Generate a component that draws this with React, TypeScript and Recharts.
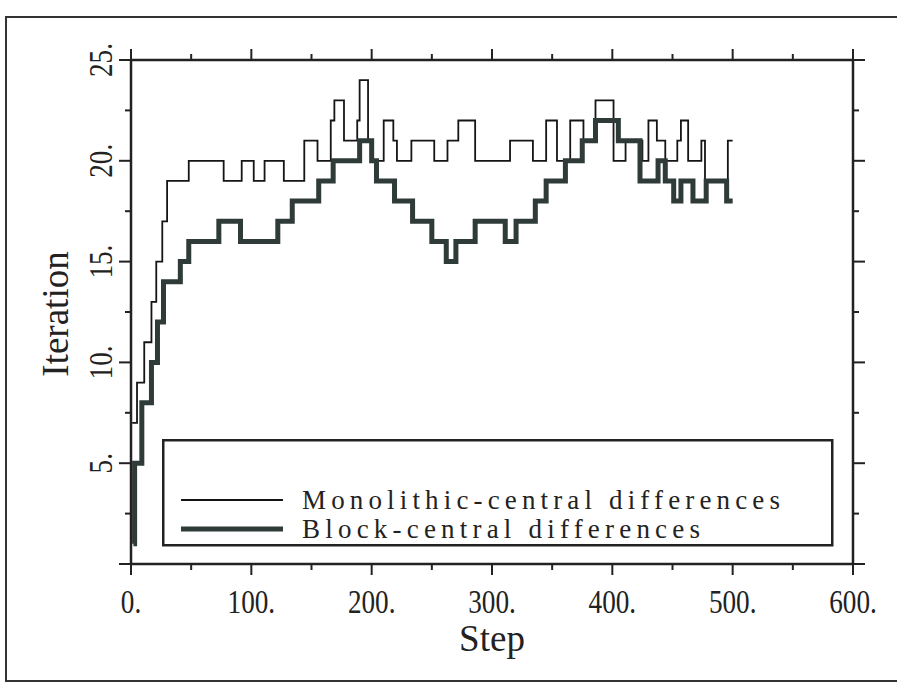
import { Legend, Line, LineChart, XAxis, YAxis } from "recharts";

const SERIF = "'Liberation Serif', 'DejaVu Serif', serif";
const INK = "#222";

const stepTicks = [0, 50, 100, 150, 200, 250, 300, 350, 400, 450, 500, 550, 600];
const iterTicks = [0, 2.5, 5, 7.5, 10, 12.5, 15, 17.5, 20, 22.5, 25];

const monoName = "Monolithic-central differences";
const monoSteps = [
  1, 5, 11, 17, 21, 26, 30, 48, 77, 92, 102, 111, 127, 144, 155, 166, 169, 177, 188, 190,
  197, 201, 210, 218, 221, 233, 252, 263, 272, 286, 315, 334, 345, 354, 365, 376, 386, 401, 411, 425,
  430, 437, 444, 454, 457, 463, 474, 477, 496, 500,
];
const monoIters = [
  7, 9, 11, 13, 15, 17, 19, 20, 19, 20, 19, 20, 19, 21, 20, 22, 23, 21, 22, 24,
  21, 20, 22, 21, 20, 21, 20, 21, 22, 20, 21, 20, 22, 20, 22, 21, 23, 20, 21, 20,
  22, 21, 20, 21, 22, 20, 21, 19, 21, 21,
];

const blockName = "Block-central differences";
const blockSteps = [
  2, 3, 9, 17, 22, 27, 41, 48, 73, 91, 122, 134, 156, 168, 190, 200, 204, 219, 234, 250,
  262, 270, 286, 311, 320, 336, 345, 361, 375, 386, 405, 423, 438, 444, 451, 457, 467, 478, 495, 500,
];
const blockIters = [
  1, 5, 8, 10, 12, 14, 15, 16, 17, 16, 17, 18, 19, 20, 21, 20, 19, 18, 17, 16,
  15, 16, 17, 16, 17, 18, 19, 20, 21, 22, 21, 19, 20, 19, 18, 19, 18, 19, 18, 18,
];

const legendOrder = [monoName, blockName];

const toRows = (xs: number[], ys: number[]) => xs.map((x, i) => ({ x, y: ys[i] }));
const monoRows = toRows(monoSteps, monoIters);
const blockRows = toRows(blockSteps, blockIters);

const lineStyles: Record<string, { width: number; textLength: number }> = {
  [monoName]: { width: 1.8, textLength: 478 },
  [blockName]: { width: 5, textLength: 398 },
};

function BottomTick({ x, y, payload }: any) {
  const v = payload.value;
  const major = v % 100 === 0;
  return (
    <g>
      <line x1={x} x2={x} y1={y} y2={y + (major ? 11 : 6)} stroke={INK} strokeWidth={2} />
      {major && (
        <text
          transform={`translate(${x},${y + 49}) scale(0.8,1)`}
          textAnchor="middle"
          fontFamily={SERIF}
          fontSize={34}
          fill={INK}
        >
          {`${v}.`}
        </text>
      )}
    </g>
  );
}

function TopTick({ x, y, payload }: any) {
  const major = payload.value % 100 === 0;
  return <line x1={x} x2={x} y1={y} y2={y - (major ? 11 : 6)} stroke={INK} strokeWidth={2} />;
}

function LeftTick({ x, y, payload }: any) {
  const v = payload.value;
  const major = v % 5 === 0;
  return (
    <g>
      <line x1={x - (major ? 12 : 6)} x2={x} y1={y} y2={y} stroke={INK} strokeWidth={2} />
      {major && v > 0 && (
        <text
          transform={`translate(${x - 19},${y}) rotate(-90) scale(0.8,1)`}
          textAnchor="middle"
          fontFamily={SERIF}
          fontSize={34}
          fill={INK}
        >
          {`${v}.`}
        </text>
      )}
    </g>
  );
}

function RightTick({ x, y, payload }: any) {
  const major = payload.value % 5 === 0;
  return <line x1={x} x2={x + (major ? 12 : 6)} y1={y} y2={y} stroke={INK} strokeWidth={2} />;
}

function LegendBox({ payload }: any) {
  // keep the reference order: monolithic on top, block below
  const entries = [...(payload ?? [])].sort(
    (a: any, b: any) => legendOrder.indexOf(a.value) - legendOrder.indexOf(b.value)
  );
  return (
    <svg width={672} height={108} style={{ display: "block" }}>
      <rect x={1.25} y={1.25} width={669} height={105} fill="#fff" stroke={INK} strokeWidth={2.5} />
      {entries.map((entry: any, i: number) => {
        const cy = 61 + i * 29;
        const style = lineStyles[entry.value];
        return (
          <g key={entry.value}>
            <line x1={19} x2={121} y1={cy} y2={cy} stroke={entry.color} strokeWidth={style?.width ?? 2} />
            <text
              x={140}
              y={cy + 9}
              fontFamily={SERIF}
              fontSize={27}
              fill={INK}
              textLength={style?.textLength}
              lengthAdjust="spacing"
            >
              {entry.value}
            </text>
          </g>
        );
      })}
    </svg>
  );
}

export default function App() {
  return (
    <div
      style={{
        position: "absolute",
        left: 0,
        top: 0,
        width: 897,
        height: 683,
        background: "#fff",
        overflow: "hidden",
      }}
    >
      <div
        style={{
          position: "absolute",
          left: 5,
          top: 16,
          width: 1000,
          height: 662,
          borderTop: "2px solid #333",
          borderLeft: "2px solid #333",
          borderBottom: "2px solid #333",
        }}
      />
      <LineChart
        width={897}
        height={683}
        margin={{ top: 40, right: 24, bottom: 69, left: 71 }}
        style={{ position: "absolute", left: 0, top: 0 }}
      >
        <XAxis
          dataKey="x"
          type="number"
          domain={[0, 600]}
          ticks={stepTicks}
          interval={0}
          height={50}
          tickSize={0}
          tickMargin={0}
          tickLine={false}
          tick={<BottomTick />}
          axisLine={{ stroke: INK, strokeWidth: 2.5 }}
          allowDataOverflow
          label={() => (
            <text x={492} y={651} textAnchor="middle" fontFamily={SERIF} fontSize={37} fill={INK}>
              Step
            </text>
          )}
        />
        <XAxis
          xAxisId="top"
          orientation="top"
          dataKey="x"
          type="number"
          domain={[0, 600]}
          ticks={stepTicks}
          interval={0}
          height={20}
          tickSize={0}
          tickMargin={0}
          tickLine={false}
          tick={<TopTick />}
          axisLine={{ stroke: INK, strokeWidth: 2.5 }}
          allowDataOverflow
        />
        <YAxis
          type="number"
          domain={[0, 25]}
          ticks={iterTicks}
          interval={0}
          width={60}
          tickSize={0}
          tickMargin={0}
          tickLine={false}
          tick={<LeftTick />}
          axisLine={{ stroke: INK, strokeWidth: 2.5 }}
          allowDataOverflow
          label={() => (
            <text
              transform="translate(68,314) rotate(-90)"
              textAnchor="middle"
              fontFamily={SERIF}
              fontSize={37}
              fill={INK}
            >
              Iteration
            </text>
          )}
        />
        <YAxis
          yAxisId="right"
          orientation="right"
          type="number"
          domain={[0, 25]}
          ticks={iterTicks}
          interval={0}
          width={20}
          tickSize={0}
          tickMargin={0}
          tickLine={false}
          tick={<RightTick />}
          axisLine={{ stroke: INK, strokeWidth: 2.5 }}
          allowDataOverflow
        />
        <Legend
          layout="vertical"
          align="center"
          verticalAlign="middle"
          content={<LegendBox />}
          wrapperStyle={{ left: 162, top: 439, width: 672, height: 108 }}
        />
        <Line
          name={monoName}
          data={monoRows}
          dataKey="y"
          type="stepAfter"
          stroke="#151515"
          strokeWidth={1.8}
          dot={false}
          activeDot={false}
          isAnimationActive={false}
        />
        <Line
          name={blockName}
          data={blockRows}
          dataKey="y"
          type="stepAfter"
          stroke="#2f3b38"
          strokeWidth={5}
          dot={false}
          activeDot={false}
          isAnimationActive={false}
        />
      </LineChart>
    </div>
  );
}
